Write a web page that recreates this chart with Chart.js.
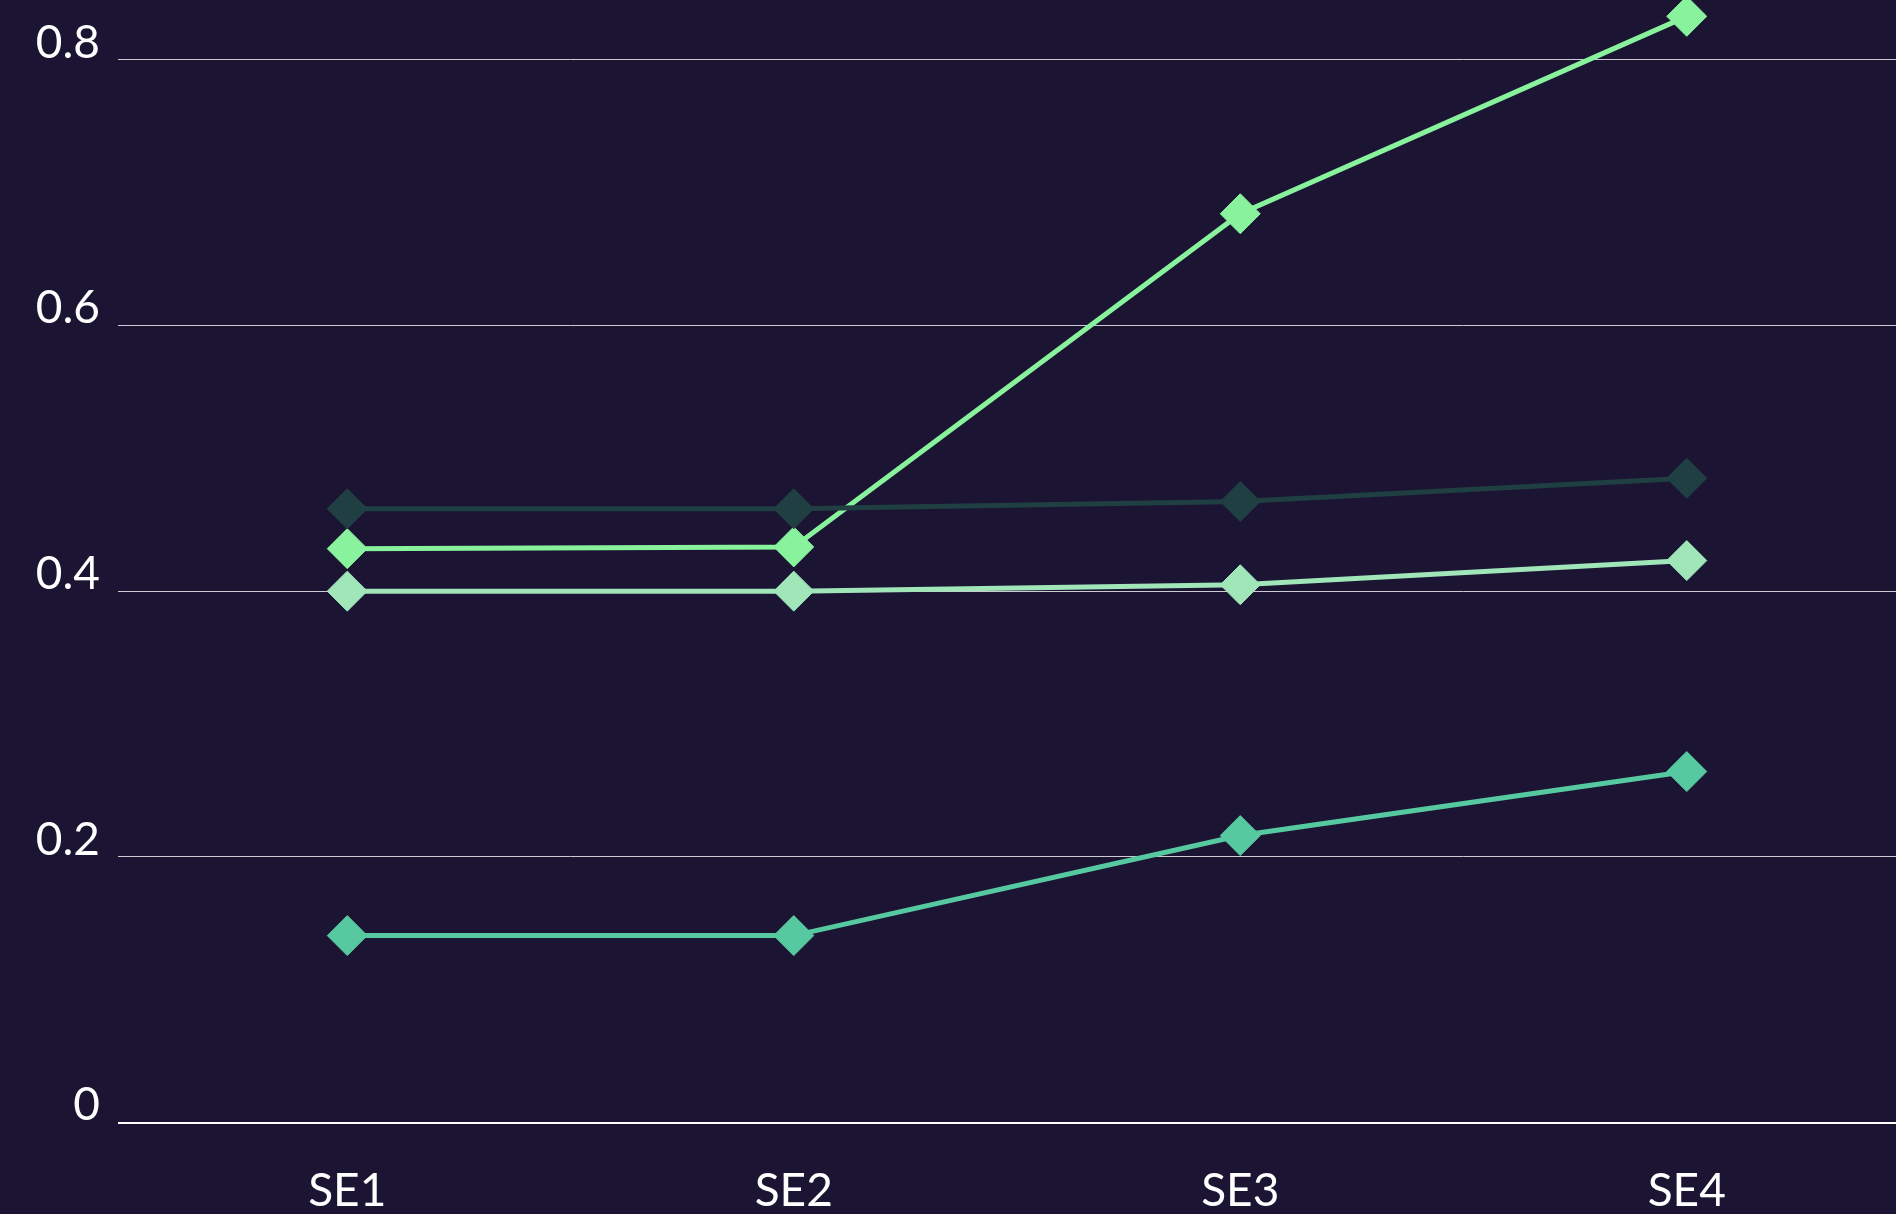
<!DOCTYPE html>
<html>
<head>
<meta charset="utf-8">
<script src="https://cdn.jsdelivr.net/npm/chart.js@4/dist/chart.umd.min.js"></script>
<style>
  html, body { margin: 0; padding: 0; background: #1b1533; overflow: hidden; }
  canvas { display: block; }
</style>
</head>
<body>
<canvas id="lineChart" width="1910" height="1214"></canvas>
<script>
const categories = ["SE1", "SE2", "SE3", "SE4"];
const yTicks = [0, 0.2, 0.4, 0.6, 0.8];
const yMax = 0.845;

const seriesDark = [0.462, 0.462, 0.4675, 0.485];
const seriesTeal = [0.1407, 0.1407, 0.216, 0.2642];
const seriesPale = [0.400, 0.400, 0.4048, 0.423];
const seriesBright = [0.432, 0.4333, 0.6841, 0.8327];

const colors = {
    dark: "#1f3f43",
    teal: "#57c9a0",
    pale: "#a0e6b9",
    bright: "#88f29c"
};

function makeSet(label, data, color) {
    return {
        label: label,
        data: data,
        borderColor: color,
        backgroundColor: color,
        borderWidth: 5,
        pointStyle: "rectRot",
        pointRadius: 20,
        pointHoverRadius: 20,
        pointBorderWidth: 1,
        pointBorderColor: color,
        tension: 0,
        clip: false
    };
}

document.addEventListener("DOMContentLoaded", function () {
    const ctx = document.getElementById("lineChart").getContext("2d");

    new Chart(ctx, {
        type: "line",
        data: {
            labels: categories,
            datasets: [
                makeSet("A", seriesDark, colors.dark),
                makeSet("B", seriesTeal, colors.teal),
                makeSet("C", seriesPale, colors.pale),
                makeSet("D", seriesBright, colors.bright)
            ]
        },
        options: {
            responsive: false,
            animation: false,
            layout: {
                autoPadding: false,
                padding: { top: 0, left: 0, right: 0, bottom: 0 }
            },
            plugins: {
                legend: { display: false },
                tooltip: { enabled: false }
            },
            scales: {
                x: {
                    offset: true,
                    grid: { display: false },
                    border: { display: false },
                    ticks: {
                        color: "#ffffff",
                        padding: 33,
                        font: { family: "Lato", size: 46 }
                    },
                    afterFit: function (scale) { scale.height = 91.5; }
                },
                y: {
                    min: 0,
                    max: yMax,
                    afterBuildTicks: function (scale) {
                        scale.ticks = yTicks.map(v => ({ value: v }));
                    },
                    grid: {
                        color: ctx => ctx.tick && ctx.tick.value === 0 ? "#ffffff" : "rgba(255,255,255,0.78)",
                        lineWidth: ctx => ctx.tick && ctx.tick.value === 0 ? 2 : 1,
                        tickLength: 6
                    },
                    border: { display: false },
                    ticks: {
                        color: "#ffffff",
                        padding: 18,
                        labelOffset: -17,
                        font: { family: "Lato", size: 46 },
                        callback: v => String(v)
                    },
                    afterFit: function (scale) {
                        scale.width = 124;
                        scale.paddingTop = 0;
                    }
                }
            }
        }
    });
});
</script>
</body>
</html>
